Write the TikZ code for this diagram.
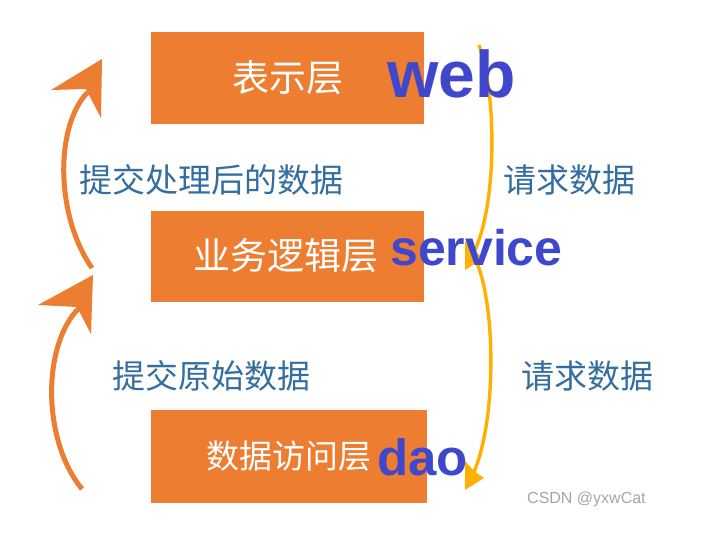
\documentclass[tikz,border=0pt]{standalone}
\usepackage{fontspec}
\setmainfont{Noto Sans}
\newfontfamily\cjk{Noto Sans CJK SC}
\newfontfamily\latinbold{Liberation Sans}
\newfontfamily\arialfont{Liberation Sans}
\definecolor{boxorange}{RGB}{237,125,49}
\definecolor{arrowyellow}{RGB}{255,176,0}
\definecolor{labelblue}{RGB}{52,110,160}
\definecolor{codeblue}{RGB}{63,72,204}
\begin{document}
\begin{tikzpicture}[x=1pt,y=-1pt,
  layerbox/.style={fill=boxorange,draw=none},
  layertext/.style={text=white,inner sep=0pt,font=\cjk\fontsize{37}{37}\selectfont},
  lbl/.style={text=labelblue,inner sep=0pt,font=\cjk\fontsize{33}{33}\selectfont},
  codetxt/.style={text=codeblue,inner sep=0pt,anchor=base west},
  upshaft/.style={draw=boxorange,line width=5pt},
  downshaft/.style={draw=arrowyellow,line width=3.4pt},
]
\useasboundingbox (0,0) rectangle (711,549);
\fill[white] (0,0) rectangle (711,549);

% boxes
\fill[layerbox] (151,32) rectangle (424,124);
\fill[layerbox] (151,211) rectangle (424,302);
\fill[layerbox] (151,410) rectangle (427,503);
\coordinate (b1) at (287.5,78);
\coordinate (b2) at (286,256);
\coordinate (b3) at (289,456);

% orange arrows (left, upward)
\coordinate (o1s) at (92,268);
\coordinate (o1n) at (88,92);
\draw[upshaft] (o1s) .. controls (55,215) and (55,125) .. (o1n);
\fill[boxorange] (102,59) -- (51,90) -- (86,89) -- (101,118) -- cycle;

\coordinate (o2s) at (82,489);
\coordinate (o2n) at (79,308);
\draw[upshaft] (o2s) .. controls (42,440) and (42,345) .. (o2n);
\fill[boxorange] (93,275) -- (38,305) -- (77,307) -- (91,334) -- cycle;

% yellow arrows (right, downward)
\coordinate (y1s) at (479,45);
\coordinate (y1n) at (474,252);
\draw[downshaft] (y1s) .. controls (497,95) and (497,205) .. (y1n);
\fill[arrowyellow] (465,270) -- (465,241) -- (474,251) -- (484,258) -- cycle;

\coordinate (y2s) at (477,263);
\coordinate (y2n) at (474,472);
\draw[downshaft] (y2s) .. controls (496,310) and (496,420) .. (y2n);
\fill[arrowyellow] (465,490) -- (465,461) -- (474,471) -- (484,478) -- cycle;

% box texts
\node[layertext] (t1) at (b1) {表示层};
\node[layertext] (t2) at (b2) {业务逻辑层};
\node[layertext,font=\cjk\fontsize{33}{33}\selectfont] (t3) at (b3) {数据访问层};

% labels
\node[lbl] (l1) at (211,180) {提交处理后的数据};
\node[lbl] (l2) at (569,180) {请求数据};
\node[lbl] (l3) at (211,376) {提交原始数据};
\node[lbl] (l4) at (587,376) {请求数据};

% code names
\node[codetxt,font=\latinbold\bfseries\fontsize{66}{66}\selectfont] (web) at (387,97) {web};
\node[codetxt,font=\latinbold\bfseries\fontsize{50}{50}\selectfont] (svc) at (390,265) {service};
\node[codetxt,font=\latinbold\bfseries\fontsize{51}{51}\selectfont] (dao) at (377,475) {dao};

% watermark
\node[text=black!35,inner sep=0pt,anchor=base west,font=\arialfont\fontsize{16}{16}\selectfont] (wm) at (527,503) {CSDN @yxwCat};
\end{tikzpicture}
\end{document}
